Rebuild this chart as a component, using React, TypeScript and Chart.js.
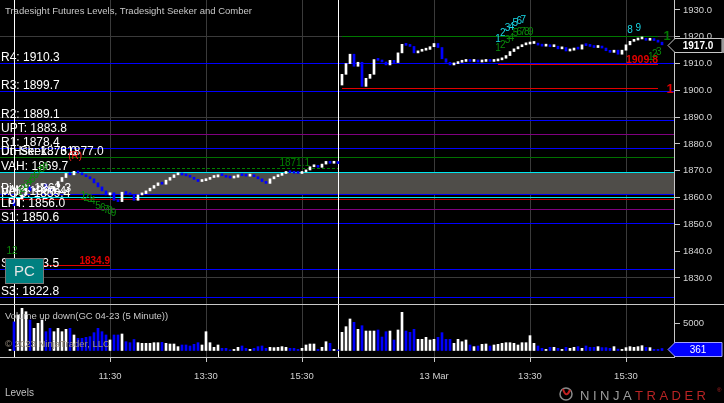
import { useEffect, useRef } from 'react';
import { Chart, registerables } from 'chart.js';

Chart.register(...registerables);

const FONT = '"Liberation Sans", Arial, sans-serif';

const chartTitle = 'Tradesight Futures Levels, Tradesight Seeker and Comber';
const volumeTitle = 'Volume up down(GC 04-23 (5 Minute))';
const copyrightText = '© 2023 NinjaTrader, LLC';
const panelName = 'Levels';

// 5-minute closes, bar index 0..163 (two sessions)
const closes: number[] = [
  1859, 1857, 1859.5, 1861, 1864, 1862.5, 1863.5, 1864.5, 1865, 1863.5,
  1862.5, 1864, 1866, 1867.5, 1869, 1868.5, 1869.8, 1869.2, 1868.5, 1867.8,
  1867, 1865.5, 1864, 1862.5, 1861, 1861.8, 1859, 1858.5, 1862, 1861.5,
  1861, 1859, 1861, 1861.5, 1862.5, 1863.5, 1864.5, 1865.5, 1865, 1866.5,
  1867.5, 1868.5, 1868.8, 1868.4, 1868.1, 1867.6, 1866.8, 1866, 1866.3, 1866.8,
  1867.5, 1867.7, 1868.5, 1868.2, 1867.6, 1867.3, 1867.6, 1868.5, 1868.2, 1868,
  1868.3, 1867.8, 1867, 1866, 1865.3, 1867, 1867.8, 1868.3, 1869, 1869.5,
  1869.3, 1869.1, 1869, 1869.6, 1870.3, 1871.5, 1871.8, 1871.3, 1872.5, 1873.5,
  1872.8, 1873.2, 1872.7,
  1906, 1910, 1913.5, 1909, 1910.5, 1901.5, 1904.5, 1906, 1911.5, 1911.2,
  1910.6, 1909.5, 1911.2, 1910.4, 1914, 1917.2, 1916.8, 1916.4, 1914, 1914.6,
  1915, 1915.3, 1916.3, 1917.5, 1916, 1911.8, 1910.5, 1909.5, 1910, 1910.5,
  1910.8, 1911.5, 1910.8, 1911.2, 1910.6, 1910.8, 1911.2, 1910.8, 1911, 1911.4,
  1912, 1913, 1914.5, 1915.5, 1916.3, 1917, 1917.3, 1917.5, 1917.6, 1916.9,
  1916.5, 1916.8, 1916.3, 1916.5, 1915.5, 1916, 1914.7, 1915, 1915.8, 1915.4,
  1917, 1916.7, 1916.4, 1916, 1916.3, 1915.8, 1914.8, 1914.2, 1915, 1913.5,
  1915, 1917, 1918.3, 1918.8, 1919.2, 1919.4, 1918.7, 1918.9, 1918.6, 1918,
  1917,
];
const sessionStarts = [0, 83];
const sessionOpens = [1858, 1902];
const sessionBreaks = [1, 82];

const volumes: number[] = [
  200, 5200, 6450, 7670, 7050, 5540, 4030, 4940, 5540, 3420,
  4030, 3420, 4030, 3420, 3850, 4030, 2820, 2210, 2210, 2400,
  2520, 3240, 4030, 3420, 2820, 1910, 2820, 2820, 3000, 1600,
  1420, 2000, 1420, 1300, 1300, 1300, 1420, 1420, 1480, 1300,
  1180, 1180, 700, 1000, 1000, 820, 1120, 1420, 1000, 3420,
  1420, 580, 1000, 400, 400, 100, 200, 580, 820, 400,
  200, 400, 700, 820, 400, 580, 520, 580, 700, 580,
  400, 400, 200, 400, 1000, 1180, 1180, 200, 580, 1600,
  1300, 200, 100,
  3300, 4330, 5730, 5120, 3850, 4510, 3540, 3540, 3540, 3730,
  2450, 3420, 3540, 1910, 3730, 6940, 3540, 3300, 3850, 2030,
  2030, 2400, 1910, 2030, 2400, 3240, 2030, 2030, 1300, 2030,
  1600, 1910, 1000, 700, 820, 1120, 1180, 820, 1000, 1120,
  1300, 1420, 1420, 1300, 1000, 1420, 1420, 2700, 1300, 820,
  400, 200, 580, 580, 400, 200, 580, 400, 580, 700,
  400, 820, 580, 580, 700, 520, 520, 400, 700, 250,
  200, 520, 700, 580, 700, 880, 580, 520, 200, 200,
  361,
];

const timeTickIndex = [25, 49, 73, 106, 130, 154];
const timeTickLabels = ['11:30', '13:30', '15:30', '13 Mar', '13:30', '15:30'];
const priceTicks = [1830, 1840, 1850, 1860, 1870, 1880, 1890, 1900, 1910, 1920, 1930];
const priceGridValues = [1830, 1860, 1890, 1920];
const volumeTicks = [5000];

// full-width level lines
const levelValues = [1910.3, 1899.7, 1889.1, 1883.8, 1878.4, 1875.0, 1869.7, 1861.4, 1860.4, 1859.4, 1855.8, 1850.6, 1833.5, 1822.8];
const levelColors = ['#0000ff', '#0000ff', '#0000ff', '#800080', '#0000ff', '#007000', '#00e8f0', '#0000ff', '#00e8f0', '#b00000', '#800080', '#0000ff', '#0000ff', '#0000ff'];
const levelLabelTexts = ['R4: 1910.3', 'R3: 1899.7', 'R2: 1889.1', 'UPT: 1883.8', 'R1: 1878.4', 'UtHsk: 1876.0', 'Dn Seek..: 31877.0', 'VAH: 1869.7', 'Pivot: 1862.3', 'VAL: 1860.4', 'POC: 1859.4', 'LPT: 1856.0', 'S1: 1850.6', 'S2: 1833.5', 'S3: 1822.8'];
const levelLabelValues = [1910.3, 1899.7, 1889.1, 1883.8, 1878.4, 1875.0, 1875.0, 1869.7, 1861.4, 1860.4, 1859.4, 1855.8, 1850.6, 1833.5, 1822.8];
const valueAreaHigh = 1869.7;
const valueAreaLow = 1861.4;

// partial segments
const segStart = [18, 2.5, 83, 83, 122];
const segEnd = [82, 25, 162, 162, 162];
const segValue = [1871.1, 1834.9, 1920.3, 1900.9, 1909.8];
const segColor = ['#008000', '#e00000', '#007800', '#e00000', '#e00000'];
const segDashed = [true, false, false, false, false];
const segText = ['1871.1', '1834.9', '1', '1', '1909.8'];
const segTextIdx = [75, 25, 164.3, 165, 162];
const segTextAlign = ['right', 'right', 'center', 'center', 'right'];
const segTextDy = [-5, -4, 0, 1, -4];
const segTextFont = ['10px', 'bold 10px', 'bold 13px', 'bold 13px', 'bold 10.5px'];

// seeker / comber counts
const countIdx = [2.5, 3.3, 4.1, 4.9, 5.7, 6.5, 7.3, 8.1, 8.9,
  18.3, 19.1, 19.9, 20.7, 22, 23.2, 24.1, 25, 25.9,
  122, 123.2, 124.4, 125.4, 126.3, 127.3, 128.3, 155, 157.1,
  122, 123.2, 124.4, 125.4, 126.4, 127.3, 128.2, 129.2, 130.2,
  160.2, 161.2, 162.2, 0.5, 16.3];
const countPrice = [1862, 1863.3, 1864.6, 1865.8, 1867, 1868.2, 1869.4, 1870.4, 1871.3,
  1860.6, 1859.9, 1859.2, 1858.5, 1856.8, 1856, 1855.4, 1854.8, 1854.2,
  1919.2, 1921.4, 1923.2, 1923.7, 1925.1, 1925.9, 1926.3, 1922.5, 1923.3,
  1915.8, 1916.9, 1918.6, 1919.5, 1921.3, 1921.8, 1921.8, 1921.8, 1921.8,
  1912.5, 1913.5, 1914.2, 1840, 1875.5];
const countText = ['1', '2', '3', '4', '5', '6', '7', '8', '9',
  '1', '2', '3', '4', '5', '6', '7', '8', '9',
  '1', '2', '3', '4', '5', '6', '7', '8', '9',
  '1', '2', '3', '4', '5', '6', '7', '8', '9',
  '1', '2', '3', '12', '(R)'];
const countColor = [
  ...Array(18).fill('#0a8a0a'),
  ...Array(9).fill('#19d8e6'),
  ...Array(9).fill('#0a8a0a'),
  '#0a8a0a', '#0a8a0a', '#0a8a0a', '#0a8a0a', '#ff2020'];

const PRICE_MAX = 1933.73;
const PRICE_MIN = 1800.52;
const PRICE_PANEL_FLOOR = 1820.3;
const VOL_MAX = 63727;
const VOL_MIN = -1182;

function barOpens(): number[] {
  return closes.map((c, i) => {
    const s = sessionStarts.indexOf(i);
    return s >= 0 ? sessionOpens[s] : closes[i - 1];
  });
}

const overlayPlugin = {
  id: 'overlay',
  beforeDatasetsDraw(chart: any) {
    const { ctx, chartArea: ca } = chart;
    const xs = chart.scales.x;
    const ys = chart.scales.y;
    ctx.save();
    const t = Math.round(ys.getPixelForValue(valueAreaHigh));
    const b = Math.round(ys.getPixelForValue(valueAreaLow));
    ctx.fillStyle = '#4f4d49';
    ctx.fillRect(ca.left, t, ca.right - ca.left, b - t);
    ctx.lineWidth = 1;
    levelValues.forEach((v, k) => {
      const yy = Math.round(ys.getPixelForValue(v)) + 0.5;
      ctx.strokeStyle = levelColors[k];
      ctx.beginPath();
      ctx.moveTo(ca.left, yy);
      ctx.lineTo(ca.right, yy);
      ctx.stroke();
    });
    segValue.forEach((v, k) => {
      const yy = Math.round(ys.getPixelForValue(v)) + 0.5;
      ctx.strokeStyle = segColor[k];
      ctx.setLineDash(segDashed[k] ? [3, 2] : []);
      ctx.beginPath();
      ctx.moveTo(xs.getPixelForValue(segStart[k]), yy);
      ctx.lineTo(xs.getPixelForValue(segEnd[k]), yy);
      ctx.stroke();
    });
    ctx.setLineDash([]);
    ctx.strokeStyle = '#ffffff';
    sessionBreaks.forEach((i) => {
      const xx = Math.round(xs.getPixelForValue(i)) + 0.5;
      ctx.beginPath();
      ctx.moveTo(xx, ca.top);
      ctx.lineTo(xx, ca.bottom);
      ctx.stroke();
    });
    ctx.restore();
  },
  afterDatasetsDraw(chart: any) {
    const { ctx, chartArea: ca } = chart;
    const xs = chart.scales.x;
    const ys = chart.scales.y;
    const yv = chart.scales.yv;
    ctx.save();
    // level labels
    ctx.font = `12px ${FONT}`;
    ctx.fillStyle = '#ffffff';
    ctx.textAlign = 'left';
    ctx.textBaseline = 'alphabetic';
    levelLabelTexts.forEach((txt, k) => {
      const yy = Math.round(ys.getPixelForValue(levelLabelValues[k]));
      ctx.fillText(txt, ca.left + 1, yy - 2);
    });
    // segment texts
    ctx.textBaseline = 'middle';
    segText.forEach((txt, k) => {
      ctx.font = `${segTextFont[k]} ${FONT}`;
      ctx.fillStyle = segColor[k];
      ctx.textAlign = segTextAlign[k] as CanvasTextAlign;
      ctx.fillText(txt, xs.getPixelForValue(segTextIdx[k]), Math.round(ys.getPixelForValue(segValue[k])) + segTextDy[k]);
    });
    // counts
    ctx.font = `10px ${FONT}`;
    ctx.textAlign = 'center';
    countText.forEach((txt, k) => {
      ctx.fillStyle = countColor[k];
      ctx.fillText(txt, xs.getPixelForValue(countIdx[k]), ys.getPixelForValue(countPrice[k]));
    });
    // PC button
    ctx.fillStyle = '#008080';
    ctx.fillRect(5, 258, 39, 26);
    ctx.strokeStyle = '#7a7a7a';
    ctx.strokeRect(5.5, 258.5, 38, 25);
    ctx.fillStyle = '#e6e6e6';
    ctx.font = `15px ${FONT}`;
    ctx.textAlign = 'center';
    ctx.fillText('PC', 24.5, 271.5);
    // title
    ctx.textAlign = 'left';
    ctx.fillStyle = '#c8c8c8';
    ctx.font = `9.5px ${FONT}`;
    ctx.fillText(chartTitle, 5, 11);
    // panel separator
    const sep = Math.round(ys.getPixelForValue(PRICE_PANEL_FLOOR));
    ctx.fillStyle = '#c8c8c8';
    ctx.fillRect(0, sep, 724, 1);
    // volume titles
    ctx.fillStyle = '#c8c8c8';
    ctx.font = `9.5px ${FONT}`;
    ctx.fillText(volumeTitle, 5, sep + 12.5);
    ctx.fillStyle = '#9a8f80';
    ctx.fillText(copyrightText, 5, sep + 40);
    // volume axis
    ctx.fillStyle = '#d4d4d4';
    ctx.strokeStyle = '#c8c8c8';
    ctx.font = `9.5px ${FONT}`;
    volumeTicks.forEach((v) => {
      const yy = Math.round(yv.getPixelForValue(v)) + 0.5;
      ctx.beginPath();
      ctx.moveTo(ca.right, yy);
      ctx.lineTo(ca.right + 6, yy);
      ctx.stroke();
      ctx.fillText(String(v), ca.right + 9, yy);
    });
    // last price marker
    const last = closes.length - 1;
    const drawMarker = (yc: number, fill: string, stroke: string, txt: string, bold: boolean) => {
      const tip = ca.right - 6;
      const r = 722;
      const h = 7;
      ctx.beginPath();
      ctx.moveTo(tip, yc);
      ctx.lineTo(tip + 7, yc - h);
      ctx.lineTo(r, yc - h);
      ctx.lineTo(r, yc + h);
      ctx.lineTo(tip + 7, yc + h);
      ctx.closePath();
      ctx.fillStyle = fill;
      ctx.fill();
      ctx.strokeStyle = stroke;
      ctx.lineWidth = 1;
      ctx.stroke();
      ctx.fillStyle = '#ffffff';
      ctx.font = `${bold ? 'bold ' : ''}10px ${FONT}`;
      ctx.textAlign = 'center';
      ctx.fillText(txt, 698, yc + 0.5);
      ctx.textAlign = 'left';
    };
    drawMarker(Math.round(ys.getPixelForValue(closes[last])) + 0.5, '#000000', '#c8c8c8', closes[last].toFixed(1), true);
    ctx.fillStyle = '#9a9a9a';
    ctx.fillRect(722, Math.round(ys.getPixelForValue(closes[last])) - 7, 2, 15);
    drawMarker(Math.round(yv.getPixelForValue(volumes[last])) + 0.5, '#0000ff', '#a0a0ff', String(volumes[last]), false);
    // panel name
    ctx.fillStyle = '#c0c0c0';
    ctx.font = `10px ${FONT}`;
    ctx.fillText(panelName, 5, 393.5);
    // logo
    ctx.strokeStyle = '#8a8a8a';
    ctx.lineWidth = 1.5;
    ctx.beginPath();
    ctx.arc(566, 394, 6, 0, Math.PI * 2);
    ctx.stroke();
    ctx.strokeStyle = '#c02020';
    ctx.lineWidth = 2;
    ctx.beginPath();
    ctx.moveTo(563, 389);
    ctx.quadraticCurveTo(566, 399, 570, 390);
    ctx.stroke();
    (ctx as any).letterSpacing = '3.5px';
    ctx.font = `13px ${FONT}`;
    ctx.textBaseline = 'alphabetic';
    ctx.fillStyle = '#9c9c9c';
    ctx.fillText('NINJA', 580, 399.5);
    const w = ctx.measureText('NINJA').width;
    ctx.fillStyle = '#b82424';
    ctx.fillText('TRADER', 580 + w, 399.5);
    (ctx as any).letterSpacing = '0px';
    ctx.font = `6px ${FONT}`;
    ctx.fillText('®', 717, 392);
    ctx.restore();
  },
};

export default function App() {
  const ref = useRef<HTMLCanvasElement | null>(null);
  useEffect(() => {
    document.body.style.margin = '0';
    document.body.style.background = '#000';
    const opens = barOpens();
    const up = closes.map((c, i) => c >= opens[i]);
    const chart = new Chart(ref.current as HTMLCanvasElement, {
      type: 'bar',
      data: {
        datasets: [
          {
            label: 'price',
            data: closes.map((c, i) => ({ x: i, y: [opens[i], c] })) as any,
            yAxisID: 'y',
            backgroundColor: up.map((u) => (u ? '#ffffff' : '#0000ff')),
            barThickness: 2,
            minBarLength: 2,
            grouped: false,
            borderWidth: 0,
          },
          {
            label: 'volume',
            data: volumes.map((v, i) => ({ x: i, y: v })) as any,
            yAxisID: 'yv',
            backgroundColor: up.map((u) => (u ? '#ffffff' : '#0000ff')),
            barThickness: 2,
            grouped: false,
            borderWidth: 0,
          },
        ],
      },
      options: {
        responsive: false,
        animation: false,
        events: [],
        layout: { padding: 0, autoPadding: false } as any,
        plugins: { legend: { display: false }, tooltip: { enabled: false } },
        scales: {
          x: {
            type: 'linear',
            min: -2.5,
            max: 166,
            offset: false,
            bounds: 'data',
            position: 'bottom',
            afterBuildTicks: (s: any) => {
              s.ticks = timeTickIndex.map((v) => ({ value: v }));
            },
            afterFit: (s: any) => {
              s.height = 46;
              s.paddingLeft = 0;
              s.paddingRight = 0;
            },
            ticks: {
              callback: (_v: any, idx: number) => timeTickLabels[idx],
              color: '#d0d0d0',
              font: { family: FONT, size: 9.5 },
              padding: 9,
              maxRotation: 0,
              autoSkip: false,
            },
            grid: { color: '#3a3a3a', tickColor: '#c8c8c8', tickLength: 5, offset: false },
            border: { display: true, color: '#c8c8c8' },
          },
          y: {
            type: 'linear',
            position: 'right',
            min: PRICE_MIN,
            max: PRICE_MAX,
            afterBuildTicks: (s: any) => {
              s.ticks = priceTicks.map((v) => ({ value: v }));
            },
            afterFit: (s: any) => {
              s.width = 50;
              s.paddingTop = 0;
              s.paddingBottom = 0;
            },
            ticks: {
              callback: (v: any) => Number(v).toFixed(1),
              color: '#d4d4d4',
              font: { family: FONT, size: 9.5 },
              padding: 3,
              autoSkip: false,
            },
            grid: {
              color: (c: any) => (priceGridValues.includes(c.tick?.value) ? '#3a3a3a' : 'rgba(0,0,0,0)'),
              tickColor: '#c8c8c8',
              tickLength: 6,
            },
            border: { display: true, color: '#c8c8c8' },
          },
          yv: {
            type: 'linear',
            position: 'right',
            display: false,
            min: VOL_MIN,
            max: VOL_MAX,
          },
        },
      } as any,
      plugins: [overlayPlugin],
    });
    return () => chart.destroy();
  }, []);
  return (
    <div style={{ position: 'fixed', left: 0, top: 0, width: 724, height: 403, background: '#000' }}>
      <canvas ref={ref} width={724} height={403} style={{ display: 'block' }} />
    </div>
  );
}
